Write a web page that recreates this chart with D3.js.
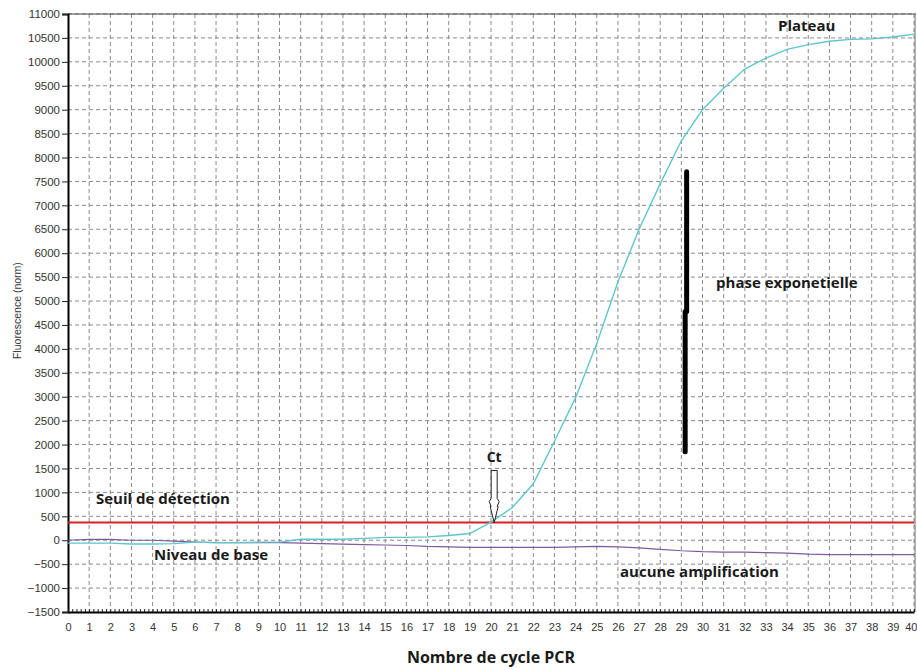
<!DOCTYPE html>
<html>
<head>
<meta charset="utf-8">
<script src="https://cdn.jsdelivr.net/npm/d3@7"></script>
<style>
    body { margin: 0; background: #fff; }
    .grid line { stroke: #8a8a8a; stroke-width: 1; stroke-dasharray: 4,3; }
    .tick text { font-family: 'Liberation Sans', Arial, sans-serif; fill: #333; }
    .note { font-family: 'Open Sans', Lato, sans-serif; font-weight: bold; fill: #1a1a1a; }
</style>
</head>
<body>
<svg class="rootSvg" width="917" height="670"></svg>
<script>
// cycles 0..40
var cycles = d3.range(0, 41);

// amplification curve (fluorescence, norm)
var amplified = [-60, -60, -60, -80, -80, -70, -40, -50, -50, -40,
                 -40, 20, 20, 20, 40, 60, 60, 70, 100, 140,
                 380, 680, 1180, 2070, 2980, 4110, 5400, 6500, 7450, 8350,
                 9000, 9450, 9850, 10080, 10260, 10360, 10430, 10470, 10480, 10520,
                 10580];

// negative sample, no amplification
var flat = [0, 20, 20, 0, 0, -20, -40, -50, -50, -50,
            -50, -60, -70, -80, -90, -100, -110, -130, -140, -150,
            -150, -150, -150, -150, -140, -130, -140, -160, -190, -220,
            -240, -250, -250, -260, -270, -290, -300, -300, -300, -300,
            -300];

var threshold = 370;
var ctCycle = 20.15;
var expoBar = [{ x: 29.25, from: 7700, to: 4780 }, { x: 29.18, from: 4780, to: 1850 }];

var yTicks = d3.range(-1500, 11001, 500);
var xTicks = d3.range(0, 41, 1);

var notes = [
    { text: 'Plateau', x: 33.57, y: 10645 },
    { text: 'phase exponetielle', x: 30.64, y: 5273 },
    { text: 'Seuil de détection', x: 1.32, y: 759 },
    { text: 'Niveau de base', x: 4.07, y: -413 },
    { text: 'aucune amplification', x: 26.1, y: -768 }
];

var margin = { top: 14, right: 3, bottom: 58, left: 68 };
var width = 917 - margin.left - margin.right;
var height = 670 - margin.top - margin.bottom;

var svg = d3.select('.rootSvg');
var g = svg.append('g')
    .attr('transform', `translate(${margin.left}, ${margin.top})`);

var x = d3.scaleLinear().domain([0, 40]).range([0, width]);
var y = d3.scaleLinear().domain([-1500, 11000]).range([height, 0]);

// Dashed grid
g.append('g')
    .attr('class', 'grid')
    .selectAll('line')
    .data(xTicks.slice(1))
    .enter()
    .append('line')
        .attr('x1', x).attr('x2', x)
        .attr('y1', 0).attr('y2', height);

g.append('g')
    .attr('class', 'grid')
    .selectAll('line')
    .data(yTicks.slice(1))
    .enter()
    .append('line')
        .attr('x1', 0).attr('x2', width)
        .attr('y1', y).attr('y2', y);

// Frame
g.append('line')
    .attr('x1', 0).attr('x2', width + 2)
    .attr('y1', 0).attr('y2', 0)
    .attr('stroke', '#444');
g.append('line')
    .attr('x1', width + 1).attr('x2', width + 1)
    .attr('y1', 0).attr('y2', height)
    .attr('stroke', '#666');

// Axes
var yAxis = g.append('g')
    .call(d3.axisLeft(y).tickValues(yTicks).tickFormat(d3.format('d')).tickSize(6).tickPadding(2));
yAxis.selectAll('text').style('font-size', '11.5px');

var xMinor = g.append('g')
    .attr('transform', `translate(0, ${height})`)
    .call(d3.axisTop(x).tickValues(d3.range(0, 40.01, 0.2)).tickSize(3).tickFormat(''));
xMinor.select('.domain').remove();

var xAxis = g.append('g')
    .attr('transform', `translate(0, ${height})`)
    .call(d3.axisBottom(x).tickValues(xTicks).tickSize(0).tickPadding(11));
xAxis.selectAll('text').style('font-size', '11px');
// last label sits against the right edge
xAxis.selectAll('.tick text')
    .filter(function (d) { return d === 40; })
    .attr('text-anchor', 'end')
    .attr('dx', 3);

g.selectAll('.domain').attr('stroke', '#000').attr('stroke-width', 2);
g.selectAll('.tick line').attr('stroke', '#222');

// Threshold
g.append('line')
    .attr('x1', x(0)).attr('x2', x(40))
    .attr('y1', y(threshold)).attr('y2', y(threshold))
    .attr('stroke', '#d42222')
    .attr('stroke-width', 2);

// Curves
var line = d3.line()
    .x(function (d, i) { return x(cycles[i]); })
    .y(function (d) { return y(d); });

g.append('path')
    .datum(flat)
    .attr('d', line)
    .attr('fill', 'none')
    .attr('stroke', '#7d5b9c')
    .attr('stroke-width', 1.2);

g.append('path')
    .datum(amplified)
    .attr('d', line)
    .attr('fill', 'none')
    .attr('stroke', '#5cc6cf')
    .attr('stroke-width', 1.4);

// Exponential phase bar
g.selectAll('.expo')
    .data(expoBar)
    .enter()
    .append('line')
        .attr('class', 'expo')
        .attr('x1', function (d) { return x(d.x); })
        .attr('x2', function (d) { return x(d.x); })
        .attr('y1', function (d) { return y(d.from); })
        .attr('y2', function (d) { return y(d.to); })
        .attr('stroke', '#000')
        .attr('stroke-width', 5)
        .attr('stroke-linecap', 'round');

// Ct arrow, tip on the threshold
var tx = x(ctCycle), ty = y(threshold);
g.append('path')
    .attr('d', 'M' + tx + ',' + ty
             + 'L' + (tx - 4) + ',' + (ty - 16)
             + 'L' + (tx - 3) + ',' + (ty - 16)
             + 'L' + (tx - 5) + ',' + (ty - 21)
             + 'L' + (tx - 3) + ',' + (ty - 24)
             + 'L' + (tx - 3) + ',' + (ty - 52)
             + 'L' + (tx + 3) + ',' + (ty - 52)
             + 'L' + (tx + 3) + ',' + (ty - 24)
             + 'L' + (tx + 5) + ',' + (ty - 21)
             + 'L' + (tx + 3) + ',' + (ty - 16)
             + 'L' + (tx + 4) + ',' + (ty - 16)
             + 'Z')
    .attr('fill', '#fff')
    .attr('stroke', '#222')
    .attr('stroke-width', 1);

g.append('text')
    .attr('class', 'note')
    .attr('x', tx)
    .attr('y', ty - 61)
    .attr('text-anchor', 'middle')
    .style('font-size', '14px')
    .text('Ct');

// Annotations
g.selectAll('.notes')
    .data(notes)
    .enter()
    .append('text')
        .attr('class', 'note')
        .attr('x', function (d) { return x(d.x); })
        .attr('y', function (d) { return y(d.y); })
        .style('font-size', '15px')
        .text(function (d) { return d.text; });

// Axis titles
svg.append('text')
    .attr('transform', `translate(21, ${margin.top + y(4800)}) rotate(-90)`)
    .attr('text-anchor', 'middle')
    .style('font-family', "'Liberation Sans', Arial, sans-serif")
    .style('font-size', '10.5px')
    .attr('fill', '#333')
    .text('Fluorescence (norm)');

svg.append('text')
    .attr('class', 'note')
    .attr('x', margin.left + x(20))
    .attr('y', 663)
    .attr('text-anchor', 'middle')
    .style('font-size', '16px')
    .text('Nombre de cycle PCR');
</script>
</body>
</html>
